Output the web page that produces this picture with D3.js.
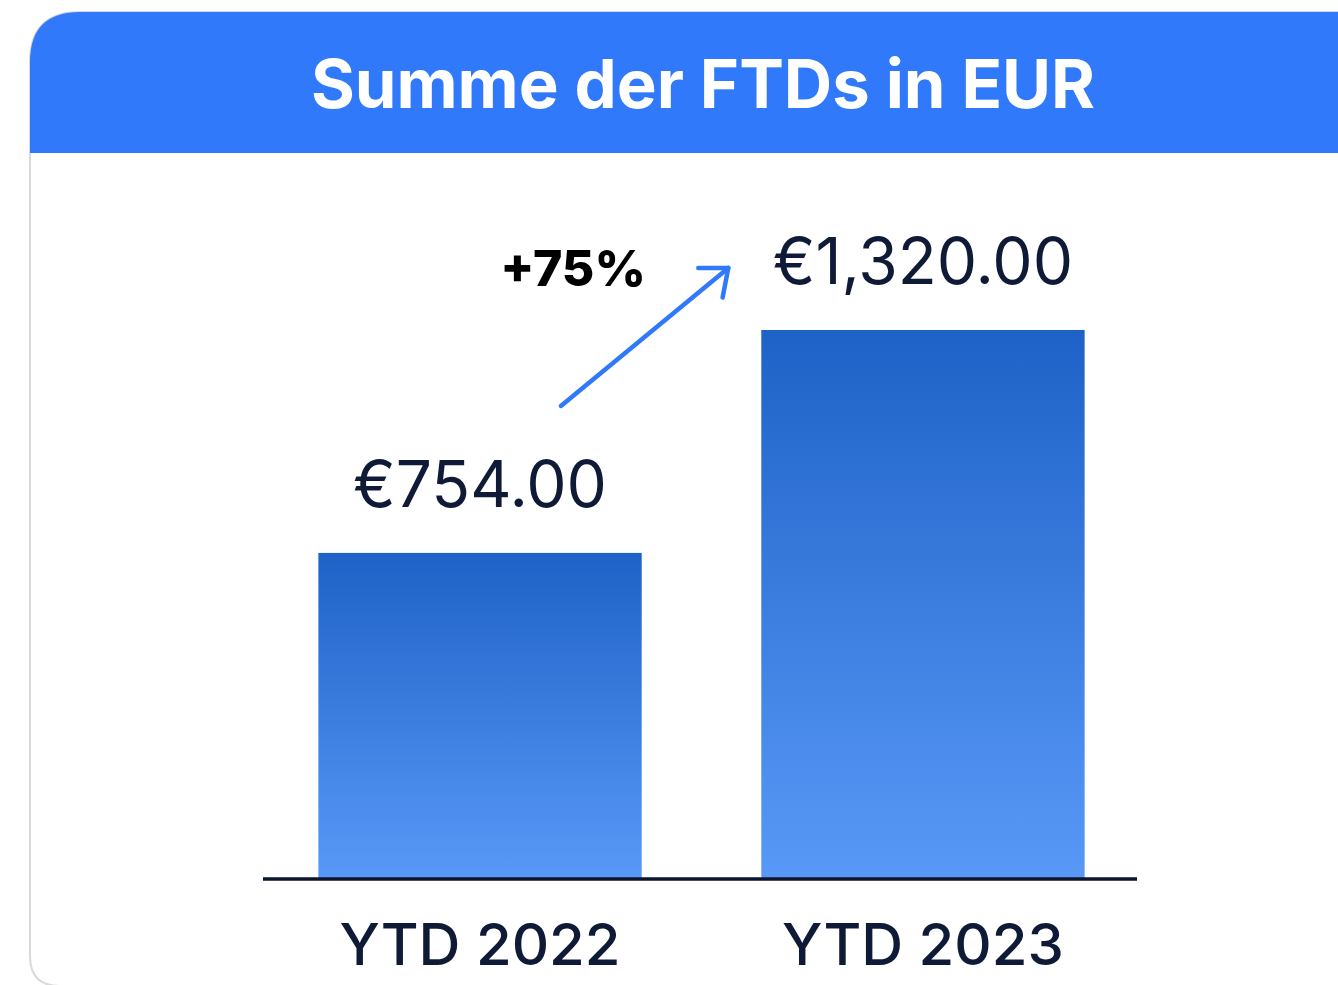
<!DOCTYPE html>
<html>
<head>
<meta charset="utf-8">
<script src="https://cdn.jsdelivr.net/npm/d3@7"></script>
<style>
  html, body { margin: 0; padding: 0; background: #ffffff; overflow: hidden; }
  svg { display: block; font-family: Inter, "Noto Sans", sans-serif; }
</style>
</head>
<body>
<div id="chart"></div>
<script>
// chart data
const title = 'Summe der FTDs in EUR';
const categories = ['YTD 2022', 'YTD 2023'];
const values = [754, 1320];
const valueLabels = ['€754.00', '€1,320.00'];
const changeLabel = '+75%';

const width = 1338;
const height = 985;

const svg = d3.select('#chart')
  .append('svg')
  .attr('width', width)
  .attr('height', height);

const defs = svg.append('defs');
const grad = defs.append('linearGradient')
  .attr('id', 'barGrad')
  .attr('x1', 0).attr('y1', 0)
  .attr('x2', 0).attr('y2', 1);
grad.append('stop').attr('offset', '0%').attr('stop-color', '#1f62c7');
grad.append('stop').attr('offset', '100%').attr('stop-color', '#5899f7');

// card outline (top-left and bottom-left rounded, runs off the right edge)
const cardL = 30, cardT = 12, cardB = 986, rTop = 50, rBot = 30;
svg.append('path')
  .attr('d', `M${width + 10},${cardB} L${cardL + rBot},${cardB} Q${cardL},${cardB} ${cardL},${cardB - rBot}
              L${cardL},${cardT + rTop} Q${cardL},${cardT} ${cardL + rTop},${cardT} L${width + 10},${cardT}`)
  .attr('fill', '#ffffff')
  .attr('stroke', '#d9d9d9')
  .attr('stroke-width', 2);

// header band
const headH = 141;
svg.append('path')
  .attr('d', `M${cardL},${cardT + headH} L${cardL},${cardT + rTop} Q${cardL},${cardT} ${cardL + rTop},${cardT}
              L${width + 10},${cardT} L${width + 10},${cardT + headH} Z`)
  .attr('fill', '#3079fa');

svg.append('text')
  .attr('x', 703)
  .attr('y', 108)
  .attr('text-anchor', 'middle')
  .attr('fill', '#ffffff')
  .attr('font-size', 67)
  .attr('font-weight', 700)
  .text(title);

// scales
const x = d3.scaleBand()
  .domain(categories)
  .range([263, 1140])
  .paddingInner(0.27)
  .paddingOuter(0.125);

const y = d3.scaleLinear()
  .domain([-74, d3.max(values)])
  .range([879, 330]);

// bars
svg.selectAll('rect.bar')
  .data(values)
  .enter()
  .append('rect')
  .attr('class', 'bar')
  .attr('x', (d, i) => x(categories[i]))
  .attr('y', d => y(d))
  .attr('width', x.bandwidth())
  .attr('height', d => y.range()[0] - y(d))
  .attr('fill', 'url(#barGrad)');

// baseline
svg.append('line')
  .attr('x1', x.range()[0])
  .attr('x2', x.range()[1] - 3)
  .attr('y1', y.range()[0])
  .attr('y2', y.range()[0])
  .attr('stroke', '#0b1530')
  .attr('stroke-width', 3.5);

// value labels
svg.selectAll('text.val')
  .data(values)
  .enter()
  .append('text')
  .attr('class', 'val')
  .attr('x', (d, i) => x(categories[i]) + x.bandwidth() / 2)
  .attr('y', d => y(d) - 46)
  .attr('text-anchor', 'middle')
  .attr('fill', '#0e1a36')
  .attr('font-size', 64)
  .attr('font-weight', 400)
  .text((d, i) => valueLabels[i]);

// category labels
svg.selectAll('text.cat')
  .data(categories)
  .enter()
  .append('text')
  .attr('class', 'cat')
  .attr('x', d => x(d) + x.bandwidth() / 2)
  .attr('y', y.range()[0] + 86)
  .attr('text-anchor', 'middle')
  .attr('fill', '#0e1a36')
  .attr('font-size', 58)
  .attr('font-weight', 500)
  .text(d => d);

// growth arrow + label
const ax1 = x(categories[0]) + x.bandwidth() * 0.75;
const ay1 = y(values[0]) - 147;
const ax2 = x(categories[1]) - 33;
const ay2 = y(values[1]) - 62;
const ang = Math.atan2(ay2 - ay1, ax2 - ax1);
const headLen = 30;

svg.append('line')
  .attr('x1', ax1).attr('y1', ay1)
  .attr('x2', ax2).attr('y2', ay2)
  .attr('stroke', '#3079fa')
  .attr('stroke-width', 4.5)
  .attr('stroke-linecap', 'round');

svg.append('path')
  .attr('d', `M${ax2 + headLen * Math.cos(ang + Math.PI * 0.78)},${ay2 + headLen * Math.sin(ang + Math.PI * 0.78)}
              L${ax2},${ay2}
              L${ax2 + headLen * Math.cos(ang - Math.PI * 0.78)},${ay2 + headLen * Math.sin(ang - Math.PI * 0.78)}`)
  .attr('fill', 'none')
  .attr('stroke', '#3079fa')
  .attr('stroke-width', 4.5)
  .attr('stroke-linecap', 'round')
  .attr('stroke-linejoin', 'round');

svg.append('text')
  .attr('x', ax1 + 85)
  .attr('y', ay2 + 18)
  .attr('text-anchor', 'end')
  .attr('fill', '#000000')
  .attr('font-size', 50)
  .attr('font-weight', 800)
  .text(changeLabel);
</script>
</body>
</html>
